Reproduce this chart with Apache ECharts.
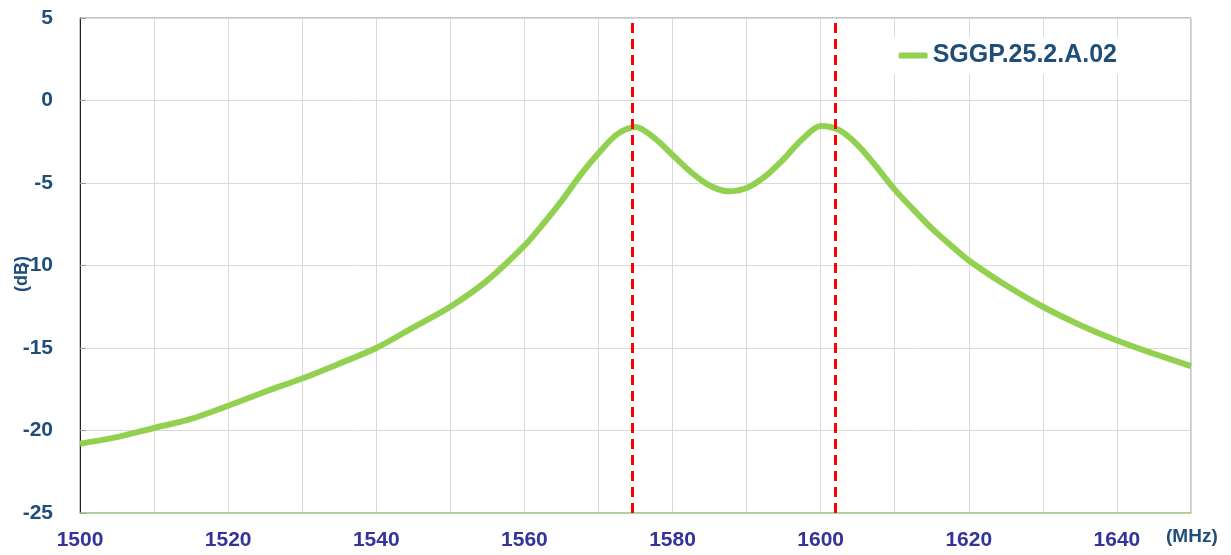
<!DOCTYPE html>
<html>
<head>
<meta charset="utf-8">
<script src="https://cdn.jsdelivr.net/npm/echarts@6/dist/echarts.min.js"></script>
<style>html,body{margin:0;padding:0;background:#fff}#c{width:1231px;height:555px}</style>
</head>
<body>
<div id="c"></div>
<script>
const seriesName = 'SGGP.25.2.A.02';
const freqMHz = [1500,1505,1510,1515,1520,1525,1530,1535,1540,1545,1550,1555,1560,1562.5,1565,1567.5,1570,1572.5,1575,1577.5,1580,1582.5,1585,1587.5,1590,1592.5,1595,1597.5,1600,1602.5,1605,1607.5,1610,1612.5,1615,1617.5,1620,1625,1630,1635,1640,1645,1650];
const gainDb = [-20.8,-20.4,-19.85,-19.3,-18.5,-17.65,-16.85,-15.95,-15.0,-13.75,-12.5,-10.9,-8.8,-7.5,-6.1,-4.55,-3.2,-2.05,-1.6,-2.25,-3.3,-4.35,-5.15,-5.5,-5.3,-4.6,-3.55,-2.35,-1.55,-1.8,-2.7,-4.0,-5.4,-6.6,-7.75,-8.75,-9.7,-11.2,-12.5,-13.6,-14.55,-15.35,-16.1];
const markerFreqs = [1574.5, 1602];
const xTicks = [1500,1520,1540,1560,1580,1600,1620,1640];
const yTicks = [-25,-20,-15,-10,-5,0,5];

const font = '"Liberation Sans", Arial, sans-serif';
const chart = echarts.init(document.getElementById('c'));
chart.setOption({
  animation: false,
  backgroundColor: '#fff',
  grid: {left: 80, right: 40, top: 18, bottom: 42, show: true, borderColor: '#8c8c8c', borderWidth: 1},
  legend: {
    data: [seriesName], right: 108, top: 37, icon: 'roundRect', itemWidth: 29, itemHeight: 6, itemGap: 1,
    backgroundColor: '#fff', padding: [6, 6],
    textStyle: {color: '#1f4e79', fontSize: 25, fontWeight: 'bold', fontFamily: font, padding: [0,0,0,0]}
  },
  xAxis: {
    type: 'value', min: xTicks[0], max: 1650, interval: 20,
    axisLine: {onZero: false, lineStyle: {color: '#a9d18e', width: 1.5}},
    axisTick: {show: false},
    axisLabel: {color: '#333399', fontSize: 21, fontWeight: 'bold', fontFamily: font, margin: 17,
      formatter: v => xTicks.includes(v) ? String(v) : ''},
    splitLine: {show: true, lineStyle: {color: '#d9d9d9'}},
    minorTick: {show: false, splitNumber: 2},
    minorSplitLine: {show: true, lineStyle: {color: '#d9d9d9'}}
  },
  yAxis: {
    type: 'value', min: yTicks[0], max: yTicks[yTicks.length-1], interval: 5,
    axisLine: {show: true, onZero: false, lineStyle: {color: '#222', width: 1}},
    axisTick: {show: true, inside: true, length: 6, lineStyle: {color: '#999'}},
    axisLabel: {color: '#1f4e79', fontSize: 21, fontWeight: 'bold', fontFamily: font, margin: 27},
    splitLine: {show: true, lineStyle: {color: '#d9d9d9'}}
  },
  graphic: [
    {type: 'text', left: 1166, top: 527, style: {text: '(MHz)', fill: '#1f4e79', font: 'bold 19px ' + font}},
    {type: 'text', x: 13, y: 292, rotation: Math.PI/2,
      style: {text: '(dB)', fill: '#1f4e79', font: 'bold 18px ' + font, backgroundColor: '#fff'}}
  ],
  series: [{
    name: seriesName, type: 'line', smooth: 0.3, symbol: 'none',
    data: freqMHz.map((f, i) => [f, gainDb[i]]),
    lineStyle: {color: '#92d050', width: 6},
    itemStyle: {color: '#92d050'},
    markLine: {
      silent: true, symbol: 'none', label: {show: false},
      lineStyle: {color: '#ff0000', type: [10, 6], width: 3},
      data: markerFreqs.map(f => ({xAxis: f}))
    },
    z: 3
  }]
});
</script>
</body>
</html>
